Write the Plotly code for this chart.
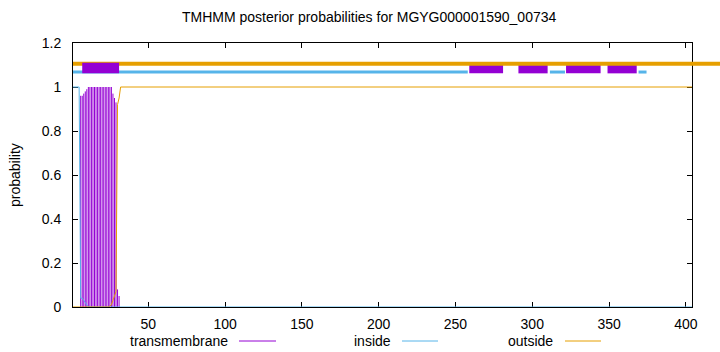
import plotly.graph_objects as go

# ---------------- data ----------------
title_text = "TMHMM posterior probabilities for MGYG000001590_00734"
seq_length = 404

x_tick_vals = [50, 100, 150, 200, 250, 300, 350, 400]
y_tick_vals = [0, 0.2, 0.4, 0.6, 0.8, 1.0, 1.2]
y_tick_text = ["0", "0.2", "0.4", "0.6", "0.8", "1", "1.2"]

# transmembrane posterior (impulses), residues 6..31; all others are 0
tm_res = list(range(6, 32))
tm_prob = [0.96, 0.96, 0.97, 0.98, 0.99,
           1.0, 1.0, 1.0, 1.0, 1.0, 1.0, 1.0, 1.0,
           1.0, 1.0, 1.0, 1.0, 1.0, 1.0, 1.0, 1.0,
           0.97, 0.95, 0.93, 0.08, 0.05]

# inside posterior (line vertices)
inside_res = [1, 5, 6, 7, 8, 9, 10, 11, 404]
inside_prob = [1.0, 1.0, 0.04, 0.04, 0.03, 0.02, 0.01, 0.0, 0.0]

# outside posterior (line vertices)
outside_res = [1, 24, 25, 26, 27, 28, 29, 30, 31, 32, 404]
outside_prob = [0.0, 0.0, 0.005, 0.01, 0.03, 0.05, 0.07, 0.92, 0.95, 1.0, 1.0]

# predicted topology segments (start, end)
topo_tm = [(7, 31), (259, 281), (291, 310), (322, 344.5), (349, 368)]
topo_inside = [(1, 258), (311.5, 321.3), (369.2, 374.4)]
topo_outside_start = 1

# colours (gnuplot defaults)
c_tm = "#9400d3"
c_in = "#56b4e9"
c_out = "#e69f00"

# ---------------- layout geometry ----------------
W, H = 720, 352
L, R, T, B = 73, 28, 43, 45
PW, PH = W - L - R, H - T - B
YMAX = 1.2


def px(xp):
    return (xp - L) / PW


def py(yp):
    return (H - B - yp) / PH


fig = go.Figure()

# impulses for transmembrane
imp_x, imp_y = [], []
for r, v in zip(tm_res, tm_prob):
    imp_x += [r, r, None]
    imp_y += [0, v, None]
fig.add_trace(go.Scatter(x=imp_x, y=imp_y, mode="lines",
                         line=dict(color=c_tm, width=1), hoverinfo="skip",
                         showlegend=False, cliponaxis=False))

fig.add_trace(go.Scatter(x=inside_res, y=inside_prob, mode="lines",
                         line=dict(color=c_in, width=1), showlegend=False))
fig.add_trace(go.Scatter(x=outside_res, y=outside_prob, mode="lines",
                         line=dict(color=c_out, width=1), showlegend=False))

shapes = []
# TM boxes other than first (below outside line)
for s, e in topo_tm[1:]:
    shapes.append(dict(type="rect", xref="x", yref="y", x0=s, x1=e,
                       y0=1.062, y1=1.110, fillcolor=c_tm,
                       line=dict(width=0)))
# outside line, extends past the right border
shapes.append(dict(type="line", xref="paper", yref="paper",
                   x0=px(L + (topo_outside_start - 1) * PW / (seq_length - 1)),
                   x1=(W - L) / PW + 0.01,
                   y0=1.106 / YMAX, y1=1.106 / YMAX,
                   line=dict(color=c_out, width=4)))
for s, e in topo_inside:
    shapes.append(dict(type="line", xref="x", yref="y", x0=s, x1=e,
                       y0=1.068, y1=1.068, line=dict(color=c_in, width=3)))
s, e = topo_tm[0]
shapes.append(dict(type="rect", xref="x", yref="y", x0=s, x1=e,
                   y0=1.062, y1=1.110, fillcolor=c_tm, line=dict(width=0)))

# manual legend (gnuplot style: text then sample line)
leg_y = 341
legend_items = [("transmembrane", 230, 239, 276, c_tm),
                ("inside", 393, 402, 438, c_in),
                ("outside", 555, 565, 601, c_out)]
annotations = []
for name, tx, l0, l1, col in legend_items:
    annotations.append(dict(text=name, xref="paper", yref="paper",
                            x=px(tx), y=py(leg_y), xanchor="right",
                            yanchor="middle", showarrow=False,
                            font=dict(size=14, color="black")))
    shapes.append(dict(type="line", xref="paper", yref="paper",
                       x0=px(l0), x1=px(l1), y0=py(leg_y), y1=py(leg_y),
                       line=dict(color=col, width=1)))

annotations.append(dict(text=title_text, xref="paper", yref="paper",
                        x=px(369.5), y=py(17), xanchor="center",
                        yanchor="middle", showarrow=False,
                        font=dict(size=14, color="black")))
annotations.append(dict(text="probability", xref="paper", yref="paper",
                        x=px(15), y=py(175), xanchor="center",
                        yanchor="middle", showarrow=False, textangle=-90,
                        font=dict(size=14, color="black")))

fig.update_layout(
    width=W, height=H,
    margin=dict(l=L, r=R, t=T, b=B, pad=0),
    paper_bgcolor="white", plot_bgcolor="white",
    font=dict(family="Liberation Sans, Arial, sans-serif", size=14,
              color="black"),
    shapes=shapes, annotations=annotations, showlegend=False,
    xaxis=dict(range=[1, seq_length], tickvals=x_tick_vals,
               ticks="inside", ticklen=5, tickcolor="black",
               showline=True, linecolor="black", linewidth=1,
               mirror="ticks", showgrid=False, zeroline=False,
               ticklabelstandoff=4, layer="below traces"),
    yaxis=dict(range=[0, YMAX], tickvals=y_tick_vals, ticktext=y_tick_text,
               ticks="inside", ticklen=5, tickcolor="black",
               showline=True, linecolor="black", linewidth=1,
               mirror="ticks", showgrid=False, zeroline=False,
               ticklabelstandoff=8, layer="below traces"),
)

fig.write_html("out.html")
